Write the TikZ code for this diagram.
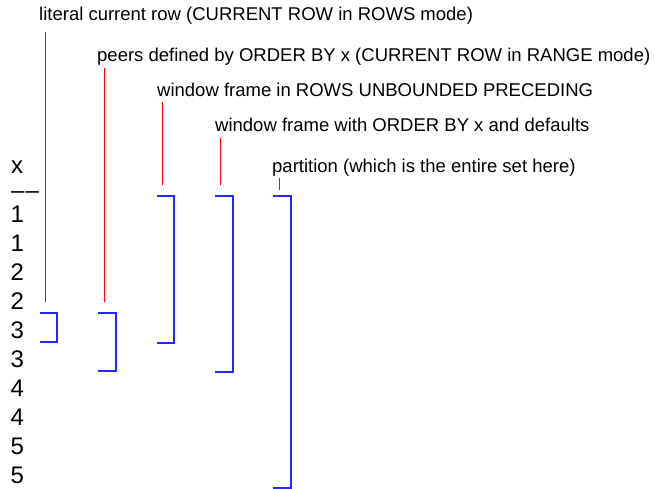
\documentclass[tikz,border=0pt]{standalone}
\usepackage{fontspec}
\setmainfont{Liberation Sans}
\usetikzlibrary{positioning}
\tikzstyle{val}=[anchor=base west,inner sep=0,font=\fontsize{24}{24}\selectfont]
\tikzstyle{lbl}=[anchor=base west,inner sep=0,font=\fontsize{18.5}{18.5}\selectfont]
\tikzstyle{tick}=[draw=red,line width=1pt]
\tikzstyle{frame}=[draw=blue!85!white,line width=1.1pt]

\begin{document}
\begin{tikzpicture}[x=1pt,y=-1pt]
\path[use as bounding box] (0,0) rectangle (655,489);

% the column of x values
\node[val] (hx) at (11,174) {x};
\node[val] (hd) at (11,198) {\textendash\kern1pt\textendash};
\foreach \v [count=\i] in {1,1,2,2,3,3,4,4,5,5}
  \node[val] (r\i) at (10.5,193+29*\i) {\v};

% labels
\node[lbl] (lit) at (39,21) {literal current row (CURRENT ROW in ROWS mode)};
\node[lbl] (peer) at (97,62) {peers defined by ORDER BY x (CURRENT ROW in RANGE mode)};
\node[lbl] (wrows) at (157,97) {window frame in ROWS UNBOUNDED PRECEDING};
\node[lbl] (word) at (215,132) {window frame with ORDER BY x and defaults};
\node[lbl] (part) at (272,172) {partition (which is the entire set here)};

% bracket corners
\coordinate (litt) at (40,313);   \coordinate (litb) at (40,342);
\coordinate (peert) at (98,313);  \coordinate (peerb) at (98,371);
\coordinate (wrowst) at (157,196); \coordinate (wrowsb) at (157,343);
\coordinate (wordt) at (215,196); \coordinate (wordb) at (215,372);
\coordinate (partt) at (273,196); \coordinate (partb) at (273,488);

% where the red lines stop
\coordinate (litend) at (45.5,302);
\coordinate (peerend) at (104,302);
\coordinate (wrowsend) at (162.5,185);
\coordinate (wordend) at (220.5,185);
\coordinate (partend) at (279,190);

\draw[tick] (lit.base west -| litend) ++(0,11) -- (litend);
\draw[tick] (peer.base west -| peerend) ++(0,6) -- (peerend);
\draw[tick] (wrows.base west -| wrowsend) ++(0,5) -- (wrowsend);
\draw[tick] (word.base west -| wordend) ++(0,6) -- (wordend);
\draw[tick] (part.base west -| partend) ++(0,6) -- (partend);

\draw[frame] (litt) -- ++(17,0) |- (litb);
\draw[frame] (peert) -- ++(18,0) |- (peerb);
\draw[frame] (wrowst) -- ++(17,0) |- (wrowsb);
\draw[frame] (wordt) -- ++(18,0) |- (wordb);
\draw[frame] (partt) -- ++(18,0) |- (partb);

\end{tikzpicture}
\end{document}
